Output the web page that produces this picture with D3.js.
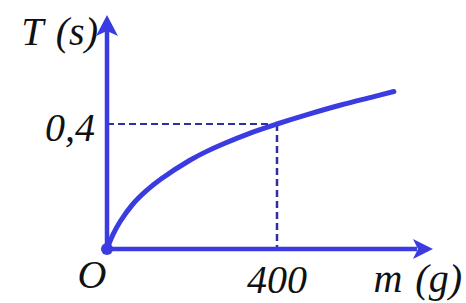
<!DOCTYPE html>
<html>
<head>
<meta charset="utf-8">
<script src="https://cdn.jsdelivr.net/npm/d3@7"></script>
<style>
  body { margin: 0; background: #fff; }
  text { font-family: 'Liberation Serif', serif; font-style: italic; fill: #111; }
</style>
</head>
<body>
<svg id="chart"></svg>
<script>
// Chart data
var massValues = [0, 14, 31, 61, 92, 127, 195, 231, 273, 337, 400, 471, 548, 626, 675] // g
var periodValues = [0, 0.046, 0.088, 0.144, 0.186, 0.224, 0.284, 0.310, 0.336, 0.371, 0.4, 0.430, 0.460, 0.487, 0.504] // s
var markMass = 400
var markPeriod = 0.4
var xAxisEnd = 767
var yAxisEnd = 0.749
var xTickLabels = ['O', '400']
var yTickLabels = ['0,4']
var xAxisTitle = 'm (g)'
var yAxisTitle = 'T (s)'

var width = 466
var height = 303
var blue = '#3b3be2'
var dashBlue = '#2f2fa0'

var svg = d3.select('#chart').attr('width', width).attr('height', height)

var x = d3.scaleLinear().domain([0, markMass]).range([107, 277])
var y = d3.scaleLinear().domain([0, markPeriod]).range([249, 124])

// dashed guides
svg.append('line')
  .attr('x1', x(0)).attr('x2', x(markMass))
  .attr('y1', y(markPeriod)).attr('y2', y(markPeriod))
  .attr('stroke', dashBlue).attr('stroke-width', 2).attr('stroke-dasharray', '7,4')
svg.append('line')
  .attr('x1', x(markMass)).attr('x2', x(markMass))
  .attr('y1', y(markPeriod)).attr('y2', y(0))
  .attr('stroke', dashBlue).attr('stroke-width', 2.5).attr('stroke-dasharray', '7,4')

// axes
svg.append('line')
  .attr('x1', x(0)).attr('x2', x(xAxisEnd) - 16)
  .attr('y1', y(0)).attr('y2', y(0))
  .attr('stroke', blue).attr('stroke-width', 4.5)
svg.append('line')
  .attr('x1', x(0)).attr('x2', x(0))
  .attr('y1', y(0)).attr('y2', y(yAxisEnd) + 16)
  .attr('stroke', blue).attr('stroke-width', 4.5)

// arrow heads
var xt = [x(xAxisEnd), y(0)]
svg.append('path')
  .attr('d', 'M' + xt[0] + ',' + xt[1] +
    'L' + (xt[0] - 20) + ',' + (xt[1] - 10) +
    'L' + (xt[0] - 15) + ',' + xt[1] +
    'L' + (xt[0] - 20) + ',' + (xt[1] + 10) + 'Z')
  .attr('fill', blue)
var yt = [x(0), y(yAxisEnd)]
svg.append('path')
  .attr('d', 'M' + yt[0] + ',' + yt[1] +
    'L' + (yt[0] - 11) + ',' + (yt[1] + 21) +
    'L' + yt[0] + ',' + (yt[1] + 16) +
    'L' + (yt[0] + 11) + ',' + (yt[1] + 21) + 'Z')
  .attr('fill', blue)

// curve
var line = d3.line()
  .x(function (d, i) { return x(massValues[i]) })
  .y(function (d, i) { return y(periodValues[i]) })
  .curve(d3.curveCatmullRom)
svg.append('path')
  .datum(massValues)
  .attr('d', line)
  .attr('fill', 'none')
  .attr('stroke', blue)
  .attr('stroke-width', 5)
  .attr('stroke-linecap', 'round')

// origin dot
svg.append('circle')
  .attr('cx', x(0)).attr('cy', y(0)).attr('r', 6)
  .attr('fill', blue)

// labels
var fs = 40
svg.append('text').attr('x', x(0) - 15).attr('y', 288)
  .attr('text-anchor', 'middle').attr('font-size', fs).text(xTickLabels[0])
svg.append('text').attr('x', x(markMass)).attr('y', 293)
  .attr('text-anchor', 'middle').attr('font-size', fs).text(xTickLabels[1])
svg.append('text').attr('x', 95).attr('y', 141)
  .attr('text-anchor', 'end').attr('font-size', fs).text(yTickLabels[0])
svg.append('text').attr('x', 462).attr('y', 292)
  .attr('text-anchor', 'end').attr('font-size', fs).attr('word-spacing', 3).text(xAxisTitle)
svg.append('text').attr('x', 98).attr('y', 45)
  .attr('text-anchor', 'end').attr('font-size', fs).attr('word-spacing', 3).text(yAxisTitle)
</script>
</body>
</html>
